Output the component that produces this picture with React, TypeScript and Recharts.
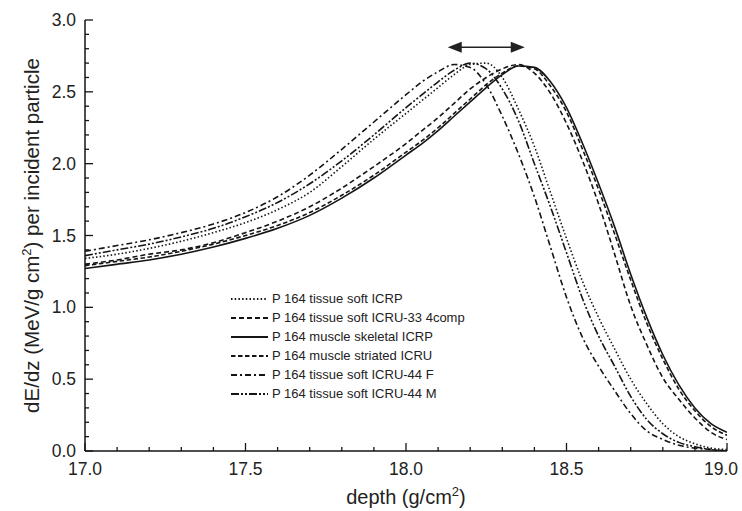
import { LineChart, Line, XAxis, YAxis, ReferenceLine, Legend } from 'recharts'

// depth grid (g/cm2), finer near the Bragg peak
const depth = [
  17.0, 17.1, 17.2, 17.3, 17.4, 17.5, 17.6, 17.7, 17.8, 17.9,
  18.0, 18.05, 18.1, 18.15, 18.2, 18.25, 18.3, 18.35, 18.4, 18.45,
  18.5, 18.55, 18.6, 18.65, 18.7, 18.75, 18.8, 18.85, 18.9, 18.95, 19.0,
]

const tissueSoftICRP = [
  1.34, 1.37, 1.41, 1.46, 1.52, 1.59, 1.68, 1.8, 1.98, 2.17,
  2.35, 2.44, 2.53, 2.62, 2.69, 2.7, 2.6, 2.38, 2.12, 1.8,
  1.48, 1.18, 0.93, 0.71, 0.5, 0.33, 0.19, 0.1, 0.05, 0.02, 0.01,
]
const tissueSoftICRU33 = [
  1.3, 1.33, 1.37, 1.4, 1.45, 1.52, 1.6, 1.7, 1.83, 1.98,
  2.14, 2.23, 2.32, 2.42, 2.52, 2.6, 2.66, 2.69, 2.63, 2.49,
  2.28, 2.02, 1.72, 1.37, 1.01, 0.74, 0.51, 0.36, 0.23, 0.13, 0.08,
]
const muscleSkeletalICRP = [
  1.27, 1.3, 1.33, 1.37, 1.42, 1.48, 1.55, 1.64, 1.76, 1.9,
  2.06, 2.14, 2.23, 2.33, 2.43, 2.53, 2.62, 2.68, 2.67, 2.57,
  2.39, 2.14, 1.86, 1.56, 1.23, 0.93, 0.67, 0.46, 0.3, 0.19, 0.13,
]
const muscleStriatedICRU = [
  1.29, 1.32, 1.35, 1.39, 1.44, 1.5, 1.57, 1.66, 1.78, 1.92,
  2.08, 2.16, 2.25, 2.35, 2.45, 2.55, 2.63, 2.68, 2.66, 2.54,
  2.36, 2.1, 1.82, 1.51, 1.19, 0.89, 0.64, 0.43, 0.28, 0.17, 0.11,
]
const tissueSoftICRU44F = [
  1.39, 1.43, 1.47, 1.52, 1.58, 1.66, 1.77, 1.92, 2.1, 2.29,
  2.48, 2.57, 2.64, 2.69, 2.67, 2.55, 2.33, 2.07, 1.77, 1.42,
  1.07, 0.79, 0.59, 0.42, 0.26, 0.14, 0.08, 0.04, 0.02, 0.01, 0.0,
]
const tissueSoftICRU44M = [
  1.36, 1.4, 1.44, 1.49, 1.55, 1.63, 1.73, 1.86, 2.02, 2.2,
  2.39, 2.48, 2.57, 2.65, 2.7, 2.66, 2.52, 2.3, 2.0, 1.7,
  1.38, 1.06, 0.8, 0.59, 0.38, 0.22, 0.12, 0.06, 0.03, 0.01, 0.0,
]

const xTicks = [
  17.0, 17.1, 17.2, 17.3, 17.4, 17.5, 17.6, 17.7, 17.8, 17.9, 18.0,
  18.1, 18.2, 18.3, 18.4, 18.5, 18.6, 18.7, 18.8, 18.9, 19.0,
]
const yTicks = [
  0.0, 0.1, 0.2, 0.3, 0.4, 0.5, 0.6, 0.7, 0.8, 0.9, 1.0, 1.1, 1.2, 1.3, 1.4, 1.5,
  1.6, 1.7, 1.8, 1.9, 2.0, 2.1, 2.2, 2.3, 2.4, 2.5, 2.6, 2.7, 2.8, 2.9, 3.0,
]

// peak shift arrow
const arrowFrom = 18.13
const arrowTo = 18.37
const arrowLevel = 2.81

const series = [
  { key: 'tsICRP', name: 'P 164 tissue soft ICRP', values: tissueSoftICRP, dash: '1.5 2.2' },
  { key: 'tsICRU33', name: 'P 164 tissue soft ICRU-33 4comp', values: tissueSoftICRU33, dash: '5 3' },
  { key: 'msICRP', name: 'P 164 muscle skeletal ICRP', values: muscleSkeletalICRP, dash: undefined },
  { key: 'mstICRU', name: 'P 164 muscle striated ICRU', values: muscleStriatedICRU, dash: '4.5 2.5' },
  { key: 'tsF', name: 'P 164 tissue soft ICRU-44 F', values: tissueSoftICRU44F, dash: '6 3 2 3' },
  { key: 'tsM', name: 'P 164 tissue soft ICRU-44 M', values: tissueSoftICRU44M, dash: '8 2 2 2 2 2' },
]

const data = depth.map((d, i) => {
  const row: Record<string, number> = { depth: d }
  series.forEach((s) => {
    row[s.key] = s.values[i]
  })
  return row
})

const FONT = '"Liberation Sans", Arial, sans-serif'
const INK = '#151515'

const isMajor = (v: number) => Math.abs(v * 2 - Math.round(v * 2)) < 1e-6

function BottomTick(props: any) {
  const { x, y, payload } = props
  const major = isMajor(payload.value)
  // keep the last label inside the picture
  const lx = Math.min(x, 721)
  return (
    <g>
      <line x1={x} y1={y} x2={x} y2={y - (major ? 8 : 4)} stroke={INK} strokeWidth={1.3} />
      {major && (
        <text x={lx} y={y + 24} textAnchor="middle" fontSize={17.5} fontFamily={FONT} fill="#222">
          {payload.value.toFixed(1)}
        </text>
      )}
    </g>
  )
}

function TopTick(props: any) {
  const { x, y, payload } = props
  const major = isMajor(payload.value)
  return <line x1={x} y1={y} x2={x} y2={y + (major ? 8 : 4)} stroke={INK} strokeWidth={1.3} />
}

function LeftTick(props: any) {
  const { x, y, payload } = props
  const major = isMajor(payload.value)
  return (
    <g>
      <line x1={x} y1={y} x2={x + (major ? 8 : 4)} y2={y} stroke={INK} strokeWidth={1.3} />
      {major && (
        <text x={x - 9} y={y + 6} textAnchor="end" fontSize={17.5} fontFamily={FONT} fill="#222">
          {payload.value.toFixed(1)}
        </text>
      )}
    </g>
  )
}

function RightTick(props: any) {
  const { x, y, payload } = props
  const major = isMajor(payload.value)
  return <line x1={x} y1={y} x2={x - (major ? 8 : 4)} y2={y} stroke={INK} strokeWidth={1.3} />
}

function XTitle(props: any) {
  const { viewBox } = props
  const cx = viewBox.x + viewBox.width / 2
  return (
    <text x={cx} y={viewBox.y + 53} textAnchor="middle" fontSize={20} fontFamily={FONT} fill="#222">
      depth (g/cm<tspan dy={-8} fontSize={13}>2</tspan>
      <tspan dy={8}>)</tspan>
    </text>
  )
}

function YTitle(props: any) {
  const { viewBox } = props
  const cx = 39
  const cy = viewBox.y + viewBox.height / 2
  return (
    <text
      x={cx}
      y={cy}
      textAnchor="middle"
      fontSize={20.5}
      fontFamily={FONT}
      fill="#222"
      transform={`rotate(-90, ${cx}, ${cy})`}
    >
      dE/dz (MeV/g cm<tspan dy={-8} fontSize={13}>2</tspan>
      <tspan dy={8}>) per incident particle</tspan>
    </text>
  )
}

function DoubleArrow(props: any) {
  const { x1, y1, x2, y2 } = props
  const head = 14
  const half = 5.5
  return (
    <g>
      <line x1={x1 + head - 2} y1={y1} x2={x2 - head + 2} y2={y2} stroke="#222" strokeWidth={1.6} />
      <polygon points={`${x1},${y1} ${x1 + head},${y1 - half} ${x1 + head},${y1 + half}`} fill="#222" />
      <polygon points={`${x2},${y2} ${x2 - head},${y2 - half} ${x2 - head},${y2 + half}`} fill="#222" />
    </g>
  )
}

function LegendBox() {
  return (
    <div style={{ fontFamily: FONT, fontSize: 13, color: '#222', lineHeight: '19px' }}>
      {series.map((s) => (
        <div key={s.key} style={{ display: 'flex', alignItems: 'center', height: 19 }}>
          <svg width={40} height={10} style={{ marginRight: 2 }}>
            <line x1={1} y1={5} x2={38} y2={5} stroke={INK} strokeWidth={1.8} strokeDasharray={s.dash} />
          </svg>
          <span>{s.name}</span>
        </div>
      ))}
    </div>
  )
}

export default function App() {
  return (
    <div style={{ position: 'absolute', left: 0, top: 0, background: '#fff' }}>
      <LineChart
        width={742}
        height={511}
        data={data}
        margin={{ top: 20, right: 15, bottom: 0, left: 0 }}
      >
        <XAxis
          dataKey="depth"
          type="number"
          domain={[17, 19]}
          ticks={xTicks}
          interval={0}
          height={60}
          tickSize={0}
          tickMargin={0}
          tickLine={false}
          tick={<BottomTick />}
          axisLine={{ stroke: INK, strokeWidth: 1.5 }}
          label={{ content: XTitle }}
          allowDataOverflow
        />
        <XAxis
          xAxisId="top"
          orientation="top"
          dataKey="depth"
          type="number"
          domain={[17, 19]}
          ticks={xTicks}
          interval={0}
          height={0}
          tickSize={0}
          tickMargin={0}
          tickLine={false}
          tick={<TopTick />}
          axisLine={{ stroke: INK, strokeWidth: 1.5 }}
          allowDataOverflow
        />
        <YAxis
          type="number"
          domain={[0, 3]}
          ticks={yTicks}
          interval={0}
          width={85}
          tickSize={0}
          tickMargin={0}
          tickLine={false}
          tick={<LeftTick />}
          axisLine={{ stroke: INK, strokeWidth: 1.5 }}
          label={{ content: YTitle }}
          allowDataOverflow
        />
        <YAxis
          yAxisId="right"
          orientation="right"
          type="number"
          domain={[0, 3]}
          ticks={yTicks}
          interval={0}
          width={0}
          tickSize={0}
          tickMargin={0}
          tickLine={false}
          tick={<RightTick />}
          axisLine={{ stroke: INK, strokeWidth: 1.5 }}
          allowDataOverflow
        />
        {series.map((s) => (
          <Line
            key={s.key}
            dataKey={s.key}
            name={s.name}
            type="monotone"
            stroke={INK}
            strokeWidth={1.6}
            strokeDasharray={s.dash}
            dot={false}
            activeDot={false}
            isAnimationActive={false}
          />
        ))}
        <ReferenceLine
          segment={[
            { x: arrowFrom, y: arrowLevel },
            { x: arrowTo, y: arrowLevel },
          ]}
          shape={DoubleArrow}
        />
        <Legend
          layout="vertical"
          align="center"
          verticalAlign="middle"
          content={<LegendBox />}
          wrapperStyle={{ left: 230, top: 289, width: 260, height: 114 }}
        />
      </LineChart>
    </div>
  )
}
